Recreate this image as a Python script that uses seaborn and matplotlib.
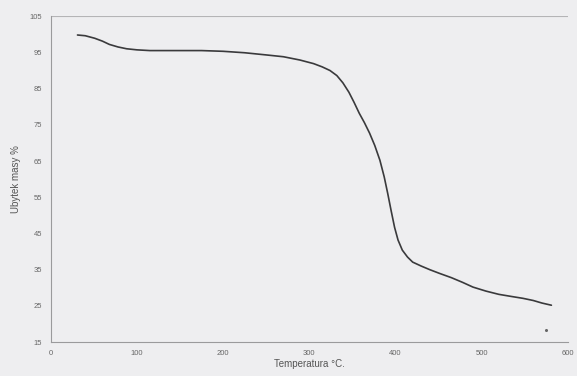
import matplotlib.pyplot as plt
import seaborn as sns
import pandas as pd

# Dane (TGA)
temperatura = [31, 40, 51, 60, 68, 78, 88, 100, 115, 130, 150, 175, 200, 225, 250, 270,
               289, 305, 315, 324, 332, 339, 346, 352, 358, 364, 370, 376, 382, 387,
               391, 395, 399, 403, 408, 414, 420, 430, 440, 451, 465, 478, 490, 505,
               520, 535, 548, 560, 570, 581]
ubytek = [99.8, 99.6, 98.9, 98.1, 97.2, 96.5, 96.0, 95.7, 95.5, 95.5, 95.5, 95.5, 95.3, 94.9,
          94.3, 93.8, 92.9, 91.9, 91.0, 90.0, 88.6, 86.6, 84.0, 81.2, 78.2, 75.6, 72.7, 69.3,
          65.2, 60.6, 56.1, 51.3, 46.7, 43.2, 40.4, 38.5, 37.1, 36.0, 35.0, 34.0, 32.8, 31.5,
          30.2, 29.1, 28.2, 27.6, 27.1, 26.5, 25.8, 25.2]

df = pd.DataFrame({'Temperatura': temperatura, 'Ubytek': ubytek})

sns.set_style('white')
plt.rcParams['font.family'] = ['Liberation Sans', 'DejaVu Sans']

bg = '#eeeef0'
fig = plt.figure(figsize=(5.77, 3.76), dpi=100, facecolor=bg)
ax = fig.add_axes([0.088, 0.090, 0.896, 0.867])
ax.set_facecolor(bg)

sns.lineplot(data=df, x='Temperatura', y='Ubytek', ax=ax, color='#3a3a3c', linewidth=1.2)
ax.plot([575], [18.3], marker='o', markersize=1.2, color='#666666')

ax.set_xlim(0, 600)
ax.set_ylim(15, 105)
ax.set_xticks(range(0, 601, 100))
ax.set_yticks(range(15, 106, 10))
ax.axhline(105, color='#b4b4b6', linewidth=0.8)

for side in ['top', 'right']:
    ax.spines[side].set_visible(False)
for side in ['left', 'bottom']:
    ax.spines[side].set_color('#9a9a9c')
    ax.spines[side].set_linewidth(0.8)

ax.tick_params(axis='both', labelsize=5.5, labelcolor='#666666', colors='#9a9a9c',
               length=2.5, width=0.6, direction='out')
ax.tick_params(axis='both', labelcolor='#666666')

ax.set_xlabel('Temperatura °C.', fontsize=7, color='#555555', labelpad=1)
ax.set_ylabel('Ubytek masy %', fontsize=7, color='#555555', labelpad=6)

plt.savefig('out.png', dpi=100, facecolor=bg)
